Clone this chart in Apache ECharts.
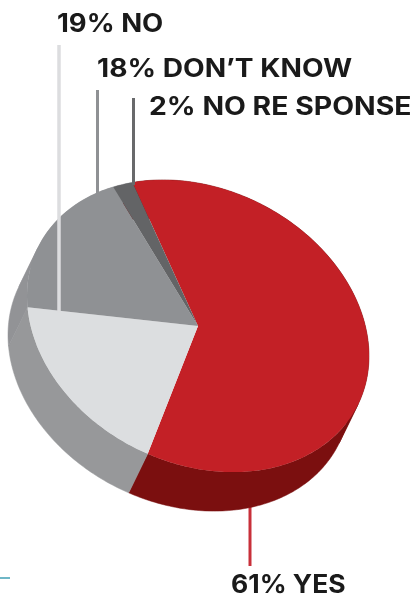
<!DOCTYPE html>
<html>
<head>
<meta charset="utf-8">
<style>html,body{margin:0;padding:0;background:#fff}#c{width:416px;height:595px}</style>
<script src="https://cdn.jsdelivr.net/npm/echarts@6/dist/echarts.min.js"></script>
</head>
<body>
<div id="c"></div>
<script>
const categories = ['YES', 'NO', "DON’T KNOW", 'NO RE SPONSE'];
const values = [61, 19, 18, 2];

const topColors = ['#c32026', '#dcdee0', '#8f9194', '#636466'];
const sideColors = ['#7b0f0f', '#97989a', '#929396', '#929396'];
const FONT = 'Inter';

// tilted-ellipse projection of the pie's rim
const C = {x: 198, y: 326};
const M = {xc: 171, yc: 30, ys: 143};
const DEPTH = {x: -19, y: 39};
const START = -112.5;

function rim(tDeg) {
  const t = tDeg * Math.PI / 180;
  return [C.x + M.xc * Math.cos(t), C.y + M.yc * Math.cos(t) + M.ys * Math.sin(t)];
}
function arc(a, b) {
  const pts = [];
  const n = Math.max(2, Math.ceil(Math.abs(b - a)));
  for (let i = 0; i <= n; i++) pts.push(rim(a + (b - a) * i / n));
  return pts;
}
const total = values.reduce((s, v) => s + v, 0);
const spans = [];
values.reduce((acc, v) => {
  const sweep = v / total * 360;
  spans.push([acc, acc + sweep]);
  return acc + sweep;
}, START);

// rim angle where the extrusion direction is tangent to the ellipse
const TANGENT = Math.atan2(M.ys * DEPTH.x, M.yc * DEPTH.x - M.xc * DEPTH.y) * 180 / Math.PI;

// the side wall is split at tangents, so opposite-winding sweeps never cancel out
function renderSide(params) {
  const s = spans[params.dataIndex];
  const color = sideColors[params.dataIndex];
  const cuts = [s[0]];
  for (let k = -4; k <= 4; k++) {
    const t = TANGENT + k * 180;
    if (t > s[0] && t < s[1]) cuts.push(t);
  }
  cuts.push(s[1]);
  const children = [];
  for (let i = 0; i + 1 < cuts.length; i++) {
    const a = arc(cuts[i], cuts[i + 1]);
    const back = a.slice().reverse().map(p => [p[0] + DEPTH.x, p[1] + DEPTH.y]);
    children.push({type: 'polygon', shape: {points: a.concat(back)},
      style: {fill: color, stroke: color, lineWidth: 0.5}});
  }
  return {type: 'group', children: children};
}
function renderTop(params) {
  const s = spans[params.dataIndex];
  return {type: 'polygon', shape: {points: [[C.x, C.y]].concat(arc(s[0], s[1]))},
    style: {fill: topColors[params.dataIndex]}};
}
const pieData = categories.map((c, i) => ({name: c, value: values[i]}));

function label(text, x, y, sx) {
  return {type: 'text', z: 10, x: x, y: y, scaleX: sx, scaleY: 1,
    style: {text: text, fill: '#1a1a1a', font: '700 25px ' + FONT, textVerticalAlign: 'middle'}};
}
function leader(x, y1, y2, color, w, z) {
  return {type: 'line', z: z, shape: {x1: x, y1: y1, x2: x, y2: y2},
    style: {stroke: color, lineWidth: w}};
}

const chart = echarts.init(document.getElementById('c'), null, {renderer: 'canvas'});
chart.setOption({
  animation: false,
  backgroundColor: '#fff',
  series: [
    {type: 'custom', coordinateSystem: 'none', z: 2, silent: true, data: pieData, renderItem: renderSide},
    {type: 'custom', coordinateSystem: 'none', z: 3, silent: true, data: pieData, renderItem: renderTop}
  ],
  graphic: [
    leader(59, 45, 313, '#dcdddf', 3.5, 10),
    leader(97.5, 90, 193, '#8f9194', 3, 10),
    leader(133.5, 98, 185, '#68696b', 3, 10),
    leader(250, 505, 566, '#c8303a', 3, 1),
    {type: 'line', z: 1, shape: {x1: 0, y1: 578, x2: 10, y2: 578}, style: {stroke: '#3f9fb5', lineWidth: 1.5}},
    label('19% ' + categories[1], 57, 24, 1.1),
    label('18% ' + categories[2], 97, 69, 1.125),
    label('2% ' + categories[3], 149, 107, 1.135),
    label('61% ' + categories[0], 231, 585, 1.06)
  ]
});
</script>
</body>
</html>
